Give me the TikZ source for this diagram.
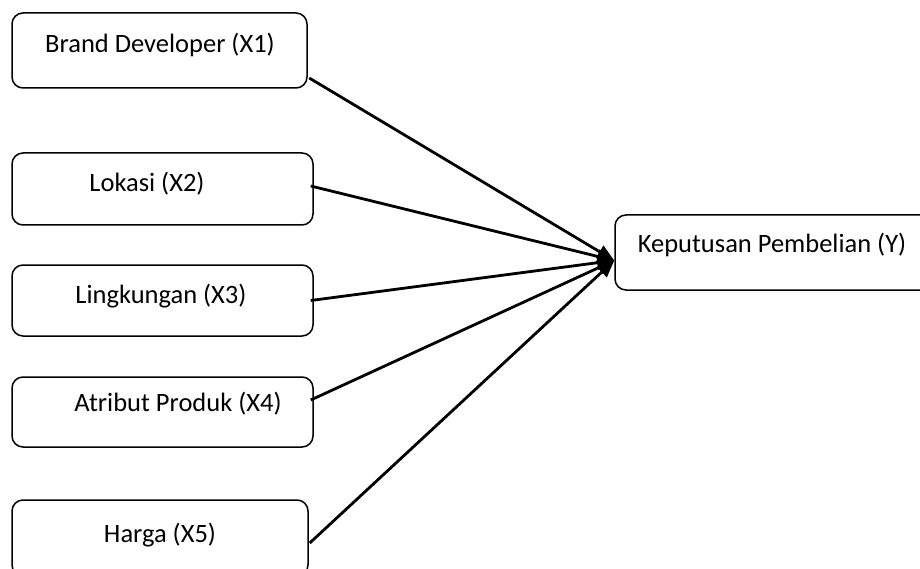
\documentclass[tikz,border=0pt]{standalone}
\usepackage{fontspec}
\setmainfont{Carlito}
\usetikzlibrary{arrows.meta}
\begin{document}
\begin{tikzpicture}[x=1pt,y=-1pt,
  box/.style={draw=black, line width=1.5pt, rounded corners=11pt, inner sep=0pt},
  lbl/.style={font=\fontsize{26.5}{30}\selectfont, inner sep=0pt},
  arr/.style={line width=2.8pt, -{Triangle[length=17pt,width=14pt]}}]
\useasboundingbox (0,0) rectangle (920,569);
\clip (0,0) rectangle (920,569);
% boxes
\node[box, minimum width=295pt, minimum height=75pt] (b1) at (159.5,50.5) {};
\node[box, minimum width=301pt, minimum height=72pt] (b2) at (162.5,189) {};
\node[box, minimum width=301pt, minimum height=71pt] (b3) at (162.5,300.5) {};
\node[box, minimum width=301pt, minimum height=70pt] (b4) at (162.5,412) {};
\node[box, minimum width=296pt, minimum height=76pt] (b5) at (160,538) {};
\node[box, minimum width=330pt, minimum height=75pt] (y) at (780,252.5) {};
% labels
\node[lbl] (t1) at (160,45) {Brand Developer (X1)};
\node[lbl] (t2) at (147,184) {Lokasi (X2)};
\node[lbl] (t3) at (161,296) {Lingkungan (X3)};
\node[lbl] (t4) at (178,404) {Atribut Produk (X4)};
\node[lbl] (t5) at (160,535) {Harga (X5)};
\node[lbl] (ty) at (772,245) {Keputusan Pembelian (Y)};
% arrows
\coordinate (tip) at ([yshift=-8pt]y.west);
\draw[arr] ([xshift=1.5pt,yshift=-27.5pt]b1.east) -- (tip);
\draw[arr] ([xshift=-3pt,yshift=3pt]b2.east) -- (tip);
\draw[arr] ([xshift=-3pt]b3.east) -- (tip);
\draw[arr] ([xshift=-3pt,yshift=12pt]b4.east) -- (tip);
\draw[arr] ([xshift=1pt,yshift=-5pt]b5.east) -- (tip);
\end{tikzpicture}
\end{document}
